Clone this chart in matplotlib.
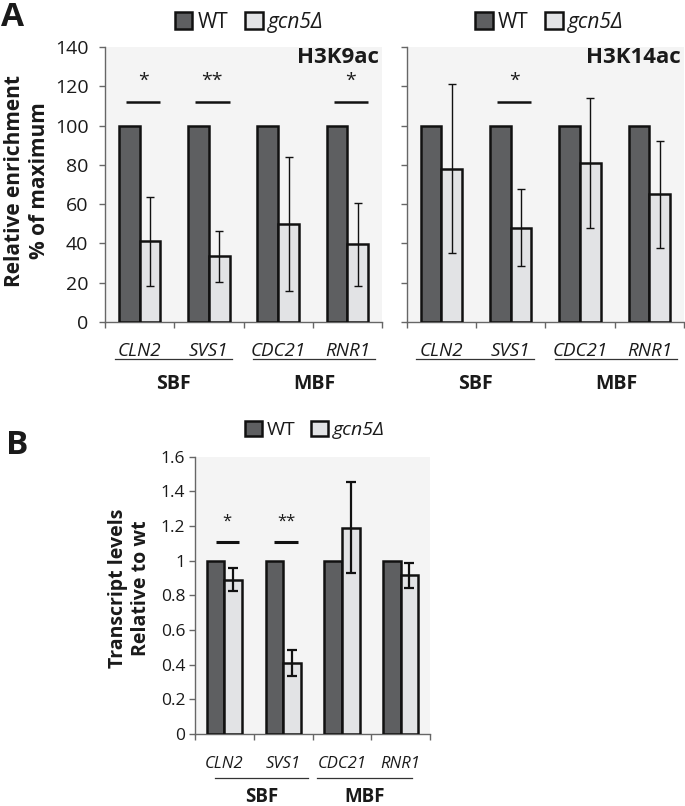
import matplotlib
matplotlib.use("Agg")
import matplotlib.pyplot as plt
from matplotlib.patches import Patch
from matplotlib.transforms import blended_transform_factory
import numpy as np

plt.rcParams['font.family'] = ['Open Sans', 'DejaVu Sans']

genes = ['CLN2', 'SVS1', 'CDC21', 'RNR1']
groups = ['SBF', 'MBF']
series = ['WT', 'gcn5Δ']

wt_k9 = [100, 100, 100, 100]
gcn5_k9 = [41, 33.5, 50, 39.5]
gcn5_k9_err = [22.7, 13, 34, 21.3]
sig_k9 = [(0, '*'), (1, '**'), (3, '*')]

wt_k14 = [100, 100, 100, 100]
gcn5_k14 = [78, 48, 81, 65]
gcn5_k14_err = [43, 19.7, 33, 27.2]
sig_k14 = [(1, '*')]

wt_tx = [1, 1, 1, 1]
gcn5_tx = [0.89, 0.41, 1.19, 0.915]
gcn5_tx_err = [0.067, 0.077, 0.263, 0.072]
sig_tx = [(0, '*'), (1, '**')]

WT_C = '#5e5f61'
KO_C = '#e2e3e5'
BG = '#f4f4f4'
TXT = '#1a1a1a'
SP = '#666666'

fig = plt.figure(figsize=(6.85, 8.06), dpi=100)
W, H = 685, 806

def axes_px(x0, x1, ytop, ybot):
    return fig.add_axes([x0 / W, 1 - ybot / H, (x1 - x0) / W, (ybot - ytop) / H])

def style(ax, ymax, ystep, fs, showlabels=True, fmt=None, pad=8):
    ax.set_facecolor(BG)
    for s in ['top', 'right']:
        ax.spines[s].set_visible(False)
    for s in ['left', 'bottom']:
        ax.spines[s].set_color(SP)
        ax.spines[s].set_linewidth(1.0)
    ax.set_xlim(-0.5, len(genes) - 0.5)
    ax.set_ylim(0, ymax)
    yt = np.arange(0, ymax + ystep / 2, ystep)
    ax.set_yticks(yt)
    if showlabels:
        ax.set_yticklabels([fmt(v) for v in yt] if fmt else [f'{v:g}' for v in yt])
    else:
        ax.set_yticklabels([])
    ax.set_xticks(np.arange(-0.5, len(genes), 1.0))
    ax.set_xticklabels([])
    ax.tick_params(axis='both', direction='out', length=4, width=1.0, color=SP,
                   labelsize=fs, labelcolor=TXT)
    ax.tick_params(axis='y', pad=pad)

def bars(ax, wt, ko, err, lw, elw, cap):
    x = np.arange(len(genes))
    ax.bar(x - 0.15, wt, width=0.3, color=WT_C, edgecolor='#111111', linewidth=lw, zorder=3)
    ax.bar(x + 0.15, ko, width=0.3, color=KO_C, edgecolor='#111111', linewidth=lw, zorder=3)
    ax.errorbar(x + 0.15, ko, yerr=err, fmt='none', ecolor='#111111', elinewidth=elw,
                capsize=cap, capthick=elw, zorder=4)

def sig(ax, marks, yline, ystar, half, lw, fs):
    for i, s in marks:
        ax.plot([i + 0.05 - half, i + 0.05 + half], [yline, yline], color='#111111', lw=lw,
                zorder=4, solid_capstyle='butt')
        ax.text(i + 0.05, ystar, s, ha='center', va='center', fontsize=fs, color=TXT)

def xlabels(ax, fs, gfs, ytext, yline, ygroup, spans):
    tr = blended_transform_factory(ax.transData, ax.transAxes)
    for i, g in enumerate(genes):
        ax.text(i, ytext, g, transform=tr, ha='center', va='center', fontsize=fs,
                style='italic', color=TXT, clip_on=False)
    for g, (a, b) in zip(groups, spans):
        ax.plot([a, b], [yline, yline], transform=tr, color='#333333', lw=0.9, clip_on=False)
        ax.text((a + b) / 2, ygroup, g, transform=tr, ha='center', va='center',
                fontsize=gfs, fontweight='bold', color=TXT, clip_on=False)

def legend(ax, x, y, fs, lw):
    handles = [Patch(facecolor=WT_C, edgecolor='#111111', linewidth=lw),
               Patch(facecolor=KO_C, edgecolor='#111111', linewidth=lw)]
    leg = ax.legend(handles, series, loc='center', bbox_to_anchor=(x, y), ncol=2,
                    frameon=False, fontsize=fs, handlelength=0.85, handleheight=0.85,
                    handletextpad=0.25, columnspacing=0.8, borderaxespad=0)
    for t in leg.get_texts():
        t.set_color(TXT)
    leg.get_texts()[1].set_style('italic')

def ylabel_px(text, xc, yc, fs):
    fig.text(xc / W, 1 - yc / H, text, rotation=90, ha='center', va='center',
             multialignment='center', fontsize=fs, fontweight='bold', color=TXT,
             linespacing=1.2)

# Panel A left
axL = axes_px(105, 382, 47, 322)
style(axL, 140, 20, 14, pad=8)
bars(axL, wt_k9, gcn5_k9, gcn5_k9_err, 1.8, 1.0, 3.2)
sig(axL, sig_k9, 112, 123, 0.25, 1.8, 14)
xlabels(axL, 13.5, 14, -0.105, -0.133, -0.225, [(-0.36, 1.34), (1.64, 3.4)])
legend(axL, 0.52, 1 + 24.5 / 275, 15, 1.8)
axL.text(0.99, 0.963, 'H3K9ac', transform=axL.transAxes, ha='right', va='center',
         fontsize=16, fontweight='bold', color=TXT)
ylabel_px('Relative enrichment\n% of maximum', 27, 181, 15)

# Panel A right
axR = axes_px(406.7, 684, 47, 322)
style(axR, 140, 20, 14, showlabels=False)
bars(axR, wt_k14, gcn5_k14, gcn5_k14_err, 1.8, 1.0, 3.2)
sig(axR, sig_k14, 112, 123, 0.25, 1.8, 14)
xlabels(axR, 13.5, 14, -0.105, -0.133, -0.225, [(-0.36, 1.34), (1.64, 3.4)])
legend(axR, 0.515, 1 + 24.5 / 275, 15, 1.8)
axR.text(0.99, 0.963, 'H3K14ac', transform=axR.transAxes, ha='right', va='center',
         fontsize=16, fontweight='bold', color=TXT)

# Panel B
axB = axes_px(195, 430, 456.7, 734)
style(axB, 1.6, 0.2, 12.5, fmt=lambda v: f'{round(v, 1):g}', pad=3)
bars(axB, wt_tx, gcn5_tx, gcn5_tx_err, 1.8, 1.6, 3.6)
sig(axB, sig_tx, 1.11, 1.225, 0.2, 2.2, 12)
xlabels(axB, 12, 13.5, -0.108, -0.159, -0.227, [(-0.16, 1.42), (1.58, 3.19)])
legend(axB, 0.51, 1.097, 14, 1.8)
ylabel_px('Transcript levels\nRelative to wt', 129, 588, 14)

fig.text(1 / W, 1 - 18 / H, 'A', fontsize=24, fontweight='bold', color=TXT, va='center', ha='left')
fig.text(6 / W, 1 - 445 / H, 'B', fontsize=24, fontweight='bold', color=TXT, va='center', ha='left')

fig.savefig('out.png', dpi=100)
